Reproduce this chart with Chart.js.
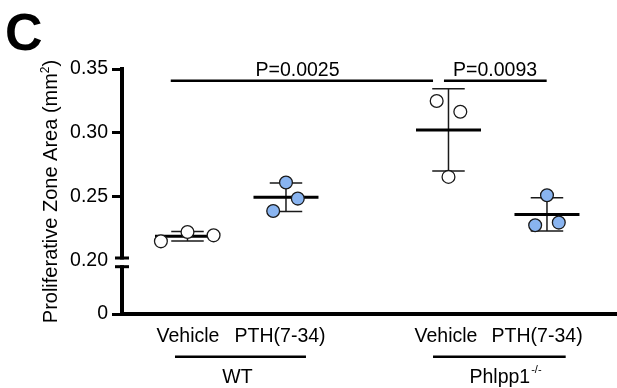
<!DOCTYPE html>
<html>
<head>
<meta charset="utf-8">
<script src="https://cdn.jsdelivr.net/npm/chart.js@4/dist/chart.umd.min.js"></script>
<style>
html, body { margin: 0; padding: 0; background: #fff; }
</style>
</head>
<body>
<canvas id="chart" width="617" height="388"></canvas>
<script>
// values
const tickLabels = ['Vehicle', 'PTH(7-34)', 'Vehicle', 'PTH(7-34)'];
const groupNames = ['WT', 'Phlpp1'];
const wtVehicle = [0.2150, 0.2223, 0.2197];
const wtPth = [0.2388, 0.2611, 0.2485];
const koVehicle = [0.3249, 0.3165, 0.2655];
const koPth = [0.2511, 0.2276, 0.2297];
const means = [0.2190, 0.2495, 0.3023, 0.2361];
const sds = [0.0037, 0.0112, 0.0322, 0.0130];
const pLabels = ['P=0.0025', 'P=0.0093'];
const yTicks = [0.20, 0.25, 0.30, 0.35];

// layout
const pos = [1, 2, 3.65, 4.65];
const jitter = [[-0.27, 0, 0.265], [-0.13, 0, 0.12], [-0.12, 0.12, 0], [0, -0.12, 0.12]];
const labelPos = [1.005, 1.94, 3.625, 4.55];
const brackets = [[0.83, 3.493], [3.604, 4.647]];
const pTextPos = [2.117, 4.123];
const bracketY = 0.3408;
const groupLines = [[0.873, 2.203], [3.493, 4.84]];
const groupTextPos = [1.508, 4.229];
const FONT = "'Liberation Sans', Arial, sans-serif";
const blue = 'rgb(137,180,240)';

Chart.defaults.font.family = FONT;
Chart.defaults.color = '#000';

const series = [wtVehicle, wtPth, koVehicle, koPth];
const fills = ['#ffffff', blue, '#ffffff', blue];

const pointSets = series.map((vals, g) => ({
    data: vals.map((v, i) => ({ x: pos[g] + jitter[g][i], y: v })),
    yAxisID: 'y',
    showLine: false,
    pointRadius: 6.4,
    pointHoverRadius: 6.4,
    pointBackgroundColor: fills[g],
    pointBorderColor: '#1a1a1a',
    pointBorderWidth: 1.3
}));

const meanData = [];
const errData = [];
pos.forEach((p, g) => {
    const m = means[g], s = sds[g];
    meanData.push({ x: p - 0.33, y: m }, { x: p + 0.33, y: m }, { x: p, y: null });
    errData.push({ x: p, y: m - s }, { x: p, y: m + s }, { x: p, y: null });
    errData.push({ x: p - 0.165, y: m + s }, { x: p + 0.165, y: m + s }, { x: p, y: null });
    errData.push({ x: p - 0.165, y: m - s }, { x: p + 0.165, y: m - s }, { x: p, y: null });
});

const lineSets = [
    { data: meanData, yAxisID: 'y', showLine: true, spanGaps: false, pointRadius: 0, borderColor: '#000', borderWidth: 3 },
    { data: errData, yAxisID: 'y', showLine: true, spanGaps: false, pointRadius: 0, borderColor: '#1a1a1a', borderWidth: 1.5 }
];

const decor = {
    id: 'decor',
    afterDraw(chart) {
        const c = chart.ctx;
        const xs = chart.scales.x, ys = chart.scales.y;
        c.save();
        c.fillStyle = '#000';
        c.strokeStyle = '#000';

        // axis break
        c.fillStyle = '#fff';
        c.fillRect(116, 259.5, 12, 5.7);
        c.fillStyle = '#000';
        c.fillRect(115, 256.5, 14, 3);
        c.fillRect(115, 265.2, 14, 3);

        // P value brackets
        const by = ys.getPixelForValue(bracketY);
        c.lineWidth = 2.5;
        brackets.forEach(b => {
            c.beginPath();
            c.moveTo(xs.getPixelForValue(b[0]), by);
            c.lineTo(xs.getPixelForValue(b[1]), by);
            c.stroke();
        });
        c.font = '19.5px ' + FONT;
        c.textAlign = 'center';
        c.textBaseline = 'alphabetic';
        pLabels.forEach((t, i) => c.fillText(t, xs.getPixelForValue(pTextPos[i]), by - 5));

        // group lines and names
        groupLines.forEach(l => {
            c.beginPath();
            c.moveTo(xs.getPixelForValue(l[0]), 356.7);
            c.lineTo(xs.getPixelForValue(l[1]), 356.7);
            c.stroke();
        });
        c.fillText(groupNames[0], xs.getPixelForValue(groupTextPos[0]), 383.3);
        const sup = '-/-';
        c.font = '19.5px ' + FONT;
        const w1 = c.measureText(groupNames[1]).width;
        c.font = '11px ' + FONT;
        const w2 = c.measureText(sup).width;
        const x0 = xs.getPixelForValue(groupTextPos[1]) - (w1 + w2 + 1) / 2;
        c.textAlign = 'left';
        c.font = '19.5px ' + FONT;
        c.fillText(groupNames[1], x0, 383.3);
        c.font = '11px ' + FONT;
        c.fillText(sup, x0 + w1 + 1, 373);

        // y axis title
        c.save();
        c.translate(50, 191.5);
        c.rotate(-Math.PI / 2);
        const t1 = 'Proliferative Zone Area (mm', t2 = '2', t3 = ')';
        c.font = '20px ' + FONT;
        const a = c.measureText(t1).width, cw = c.measureText(t3).width;
        c.font = '12px ' + FONT;
        const bw = c.measureText(t2).width;
        let tx = -(a + bw + cw) / 2;
        c.font = '20px ' + FONT;
        c.fillText(t1, tx, 7);
        c.font = '12px ' + FONT;
        c.fillText(t2, tx + a, -1);
        c.font = '20px ' + FONT;
        c.fillText(t3, tx + a + bw, 7);
        c.restore();

        // panel letter
        c.font = 'bold 52px ' + FONT;
        c.textAlign = 'left';
        c.fillText('C', 5, 50);
        c.restore();
    }
};

const tickFont = { size: 19.5, family: FONT };

new Chart(document.getElementById('chart'), {
    type: 'scatter',
    data: { datasets: pointSets.concat(lineSets) },
    options: {
        responsive: false,
        animation: false,
        layout: { autoPadding: false, padding: { top: 69, left: 0, right: 0, bottom: 0 } },
        plugins: { legend: { display: false }, tooltip: { enabled: false } },
        scales: {
            x: {
                type: 'linear',
                position: 'bottom',
                min: 0.335,
                max: 5.361,
                afterBuildTicks: s => { s.ticks = labelPos.map(v => ({ value: v })); },
                afterFit: s => { s.height = 74; s.paddingLeft = 0; s.paddingRight = 0; },
                ticks: { callback: (v, i) => tickLabels[i], font: tickFont, color: '#000', padding: 11, autoSkip: false, maxRotation: 0 },
                grid: { drawOnChartArea: false, drawTicks: false },
                border: { width: 4, color: '#000' }
            },
            y0: {
                type: 'linear',
                position: 'left',
                stack: 'v',
                stackWeight: 53.5,
                min: 0,
                max: 0.2,
                afterBuildTicks: s => { s.ticks = [{ value: 0 }]; },
                afterFit: s => { s.width = 122; },
                ticks: { callback: v => String(v), font: tickFont, color: '#000', padding: 4 },
                grid: { drawOnChartArea: false, tickLength: 10, tickWidth: 3, tickColor: '#000' },
                border: { width: 4, color: '#000' }
            },
            y: {
                type: 'linear',
                position: 'left',
                stack: 'v',
                stackWeight: 191.5,
                min: 0.2,
                max: 0.35,
                afterBuildTicks: s => { s.ticks = yTicks.map(v => ({ value: v })); },
                afterFit: s => { s.width = 122; },
                ticks: { callback: v => v.toFixed(2), font: tickFont, color: '#000', padding: 4 },
                grid: {
                    drawOnChartArea: false, tickLength: 10, tickWidth: 3,
                    tickColor: ctx => (ctx.tick && Math.abs(ctx.tick.value - 0.2) < 1e-9) ? 'rgba(0,0,0,0)' : '#000'
                },
                border: { width: 4, color: '#000' }
            }
        }
    },
    plugins: [decor]
});
</script>
</body>
</html>
